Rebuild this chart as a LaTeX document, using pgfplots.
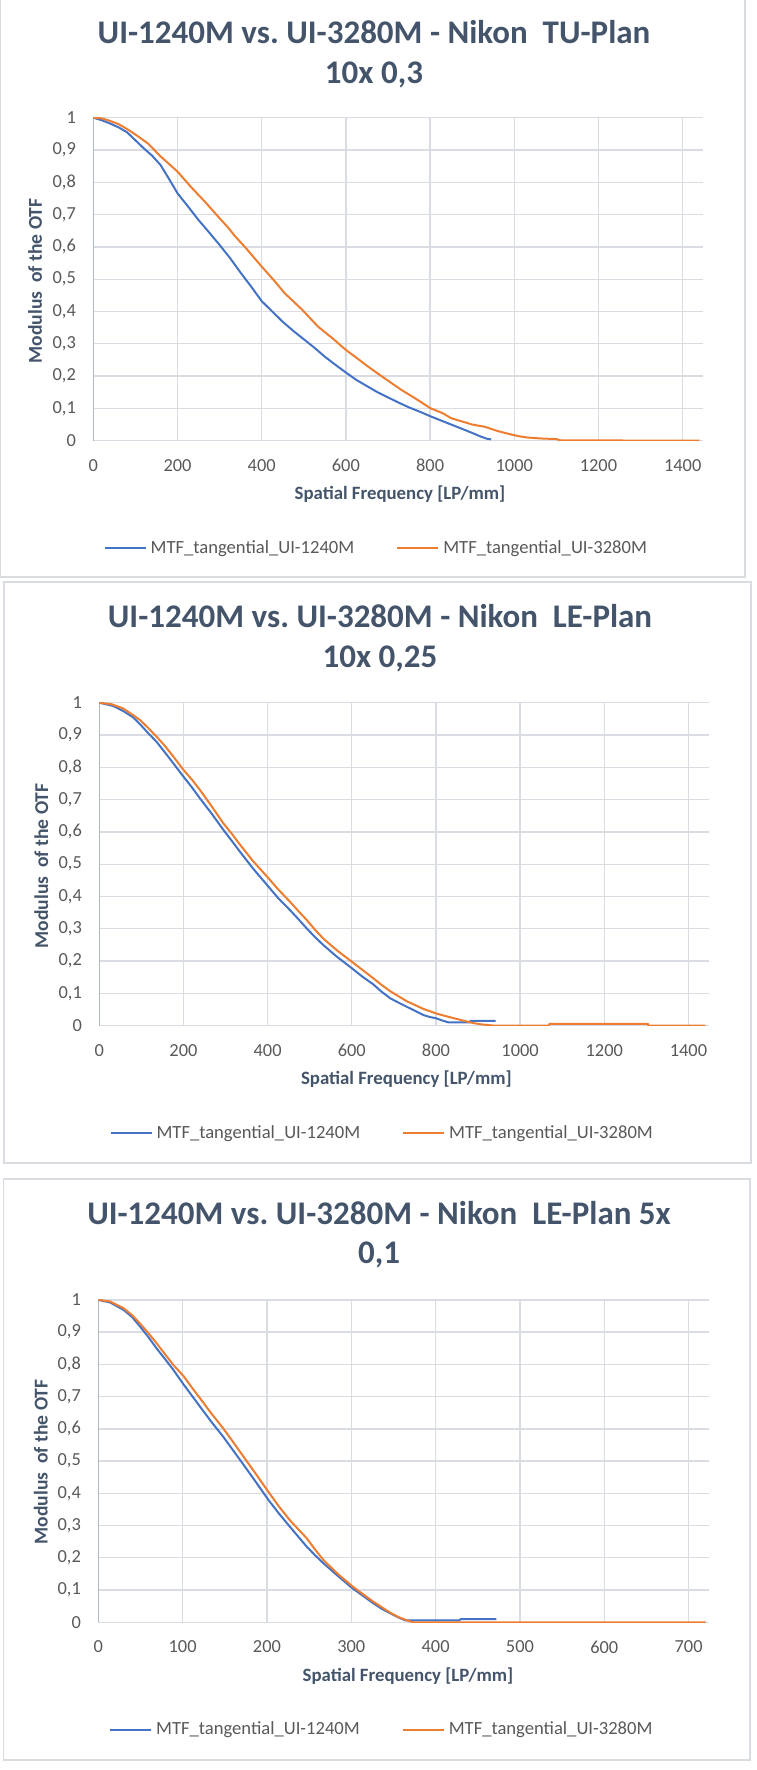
\documentclass[border=0pt]{standalone}
\usepackage{fontspec}
\setmainfont{Carlito}
\usepackage{pgfplots}
\pgfplotsset{compat=1.18}
\frenchspacing
\definecolor{mblue}{HTML}{4472C4}
\definecolor{morange}{HTML}{ED7D31}
\definecolor{titlecol}{HTML}{44546A}
\definecolor{tickcol}{HTML}{595959}
\definecolor{gridcol}{HTML}{D9DDE3}
\definecolor{framecol}{HTML}{D9DCE0}
\definecolor{ycol}{HTML}{B0B8C6}

\pgfplotsset{mtf/.style={
  scale only axis, anchor=south west,
  ymin=0, ymax=1, xmin=0,
  ytick={0,0.1,0.2,0.3,0.4,0.5,0.6,0.7,0.8,0.9,1},
  axis x line*=bottom, axis y line*=left,
  every outer x axis line/.append style={-},
  every outer y axis line/.append style={-},
  x axis line style={-, draw=gridcol, line width=0.75pt},
  y axis line style={-, draw=ycol, line width=0.75pt},
  major tick length=0pt,
  xmajorgrids, ymajorgrids,
  major grid style={draw=gridcol, line width=0.65pt},
  tick label style={font=\fontsize{9.2}{11}\selectfont, text=tickcol},
  /pgf/number format/assume math mode=true,
  xticklabel style={anchor=center, yshift=-12.3pt, /pgf/number format/1000 sep={}},
  yticklabel style={anchor=east, xshift=-5.2pt, /pgf/number format/.cd, use comma, fixed, precision=1, 1000 sep={}},
  legend style={draw=none, fill=none, at={(0.5,0)}, anchor=center, xshift=-10.5pt, yshift=-53.7pt,
    legend columns=2, font=\fontsize{9.3}{11}\selectfont, text=tickcol,
    /tikz/every even column/.append style={column sep=19pt}},
  legend image code/.code={\draw[#1] (0pt,0pt) -- (20.5pt,0pt);},
  every axis plot/.append style={line width=1pt},
}}

\newcommand{\ttl}[1]{\fontsize{16.5}{20}\selectfont\bfseries\color{titlecol}#1}
\newcommand{\axl}[1]{\fontsize{9.4}{11}\selectfont\bfseries\color{titlecol}#1}
\newcommand{\ayl}[1]{\fontsize{9.8}{11}\selectfont\bfseries\color{titlecol}#1}

\begin{document}
\begin{tikzpicture}
\useasboundingbox (0pt,0pt) rectangle (378pt,885pt);
% frames
\draw[framecol, line width=0.6pt] (0.3pt,890pt) -- (0.3pt,596.5pt) -- (372.5pt,596.5pt) -- (372.5pt,890pt);
\draw[framecol, line width=0.6pt] (2pt,594pt) rectangle (375.5pt,303.5pt);
\draw[framecol, line width=0.6pt] (1.75pt,295.5pt) rectangle (375pt,5pt);

% ---------- Panel 1 ----------
\node[anchor=base] at (187pt,863.35pt) {\ttl{UI-1240M vs. UI-3280M - Nikon\ \ TU-Plan}};
\node[anchor=base] at (187pt,843.35pt) {\ttl{10x 0,3}};
\node at (200pt,638pt) {\axl{Spatial Frequency [LP/mm]}};
\node[rotate=90] at (17.5pt,744.5pt) {\ayl{Modulus\ \ of the OTF}};
\begin{axis}[mtf, at={(46.65pt,664.65pt)}, width=305pt, height=161.5pt,
  xmax=1449, xtick={0,200,400,600,800,1000,1200,1400}]
\addplot[mblue] coordinates {
(0,1.000) (20,0.992) (40,0.982) (60,0.970) (80,0.955) (100,0.930) (120,0.905)
(140,0.882) (160,0.853) (180,0.810) (200,0.766) (225,0.725) (250,0.683)
(275,0.645) (300,0.606) (325,0.565) (350,0.520) (375,0.477) (400,0.432)
(425,0.400) (450,0.368) (475,0.340) (500,0.314) (525,0.288) (550,0.260)
(575,0.235) (600,0.211) (625,0.188) (650,0.169) (675,0.150) (700,0.134)
(725,0.118) (750,0.103) (775,0.090) (800,0.076) (825,0.063) (850,0.050)
(875,0.037) (900,0.024) (920,0.013) (935,0.006) (945,0.004)};
\addlegendentry{MTF\_tangential\_UI-1240M}
\addplot[morange] coordinates {
(0,1.000) (20,0.998) (40,0.990) (60,0.980) (80,0.965) (100,0.948) (130,0.920)
(160,0.880) (200,0.833) (233,0.784) (265,0.740) (297,0.693) (320,0.660)
(336,0.634) (360,0.600) (400,0.539) (430,0.495) (455,0.456) (495,0.407)
(534,0.353) (570,0.315) (600,0.281) (630,0.252) (653,0.229) (692,0.193)
(732,0.157) (766,0.130) (800,0.101) (830,0.085) (851,0.069) (880,0.058)
(900,0.050) (930,0.043) (960,0.030) (990,0.020) (1010,0.014) (1030,0.010)
(1060,0.007) (1100,0.005) (1110,0.001) (1440,0.000)};
\addlegendentry{MTF\_tangential\_UI-3280M}
\end{axis}

% ---------- Panel 2 ----------
\node[anchor=base] at (190pt,571.1pt) {\ttl{UI-1240M vs. UI-3280M - Nikon\ \ LE-Plan}};
\node[anchor=base] at (190pt,551.35pt) {\ttl{10x 0,25}};
\node at (203.2pt,345.3pt) {\axl{Spatial Frequency [LP/mm]}};
\node[rotate=90] at (20.6pt,452pt) {\ayl{Modulus\ \ of the OTF}};
\begin{axis}[mtf, at={(49.65pt,372.15pt)}, width=304.9pt, height=161.5pt,
  xmax=1449, xtick={0,200,400,600,800,1000,1200,1400}]
\addplot[mblue] coordinates {
(0,1.000) (33,0.990) (57,0.974) (80,0.955) (97,0.933) (116,0.906) (136,0.879)
(156,0.846) (176,0.812) (200,0.771) (220,0.738) (239,0.704) (265,0.660)
(295,0.606) (315,0.572) (334,0.539) (365,0.487) (399,0.435) (425,0.395)
(453,0.358) (473,0.330) (493,0.301) (512,0.275) (532,0.250) (565,0.213)
(600,0.178) (625,0.152) (651,0.128) (670,0.106) (691,0.085) (710,0.072)
(730,0.059) (750,0.046) (770,0.033) (785,0.027) (800,0.023) (815,0.016)
(830,0.010) (880,0.010) (882,0.015) (942,0.015)};
\addlegendentry{MTF\_tangential\_UI-1240M}
\addplot[morange] coordinates {
(0,1.000) (30,0.995) (57,0.982) (80,0.962) (97,0.946) (116,0.922) (136,0.895)
(156,0.866) (176,0.833) (200,0.792) (220,0.762) (239,0.730) (265,0.683)
(295,0.626) (315,0.594) (334,0.561) (365,0.510) (399,0.461) (425,0.422)
(453,0.384) (473,0.355) (493,0.327) (512,0.298) (532,0.270) (565,0.233)
(600,0.198) (625,0.173) (651,0.147) (670,0.127) (691,0.107) (710,0.092)
(730,0.076) (750,0.064) (770,0.052) (800,0.038) (825,0.029) (849,0.021)
(870,0.014) (889,0.008) (908,0.004) (940,0.000) (1068,0.000) (1070,0.006)
(1303,0.006) (1305,0.000) (1440,0.000)};
\addlegendentry{MTF\_tangential\_UI-3280M}
\end{axis}

% ---------- Panel 3 ----------
\node[anchor=base] at (189.5pt,272.65pt) {\ttl{UI-1240M vs. UI-3280M - Nikon\ \ LE-Plan 5x}};
\node[anchor=base] at (189.5pt,253.1pt) {\ttl{0,1}};
\node at (204pt,46.85pt) {\axl{Spatial Frequency [LP/mm]}};
\node[rotate=90] at (20.35pt,154pt) {\ayl{Modulus\ \ of the OTF}};
\begin{axis}[mtf, at={(49.15pt,73.85pt)}, width=305.5pt, height=161.2pt,
  xmax=724.5, xtick={0,100,200,300,400,500,600,700}]
\addplot[mblue] coordinates {
(0,1.000) (14,0.992) (30,0.969) (40,0.947) (49,0.919) (59,0.886) (69,0.850)
(79,0.817) (89,0.783) (101.6,0.736) (111,0.703) (120.6,0.669) (134,0.622)
(148,0.576) (158,0.540) (168,0.504) (185,0.442) (201.6,0.380) (214,0.338)
(227,0.297) (237,0.266) (247,0.235) (257,0.208) (267,0.183) (284,0.144)
(301.6,0.105) (314,0.082) (326,0.059) (336,0.042) (346,0.028) (356,0.015)
(364,0.006) (428,0.006) (430,0.010) (472,0.010)};
\addlegendentry{MTF\_tangential\_UI-1240M}
\addplot[morange] coordinates {
(0,1.000) (14,0.995) (30,0.974) (40,0.953) (49,0.928) (59,0.898) (69,0.866)
(79,0.832) (89,0.798) (101.6,0.762) (111,0.728) (120.6,0.695) (134,0.648)
(148,0.602) (158,0.566) (168,0.529) (185,0.467) (201.6,0.405) (214,0.360)
(227,0.317) (237,0.289) (247,0.261) (257,0.226) (267,0.193) (284,0.150)
(301.6,0.111) (314,0.087) (326,0.064) (336,0.047) (346,0.030) (356,0.016)
(366,0.006) (373,0.000) (720,0.000)};
\addlegendentry{MTF\_tangential\_UI-3280M}
\end{axis}
\end{tikzpicture}
\end{document}
